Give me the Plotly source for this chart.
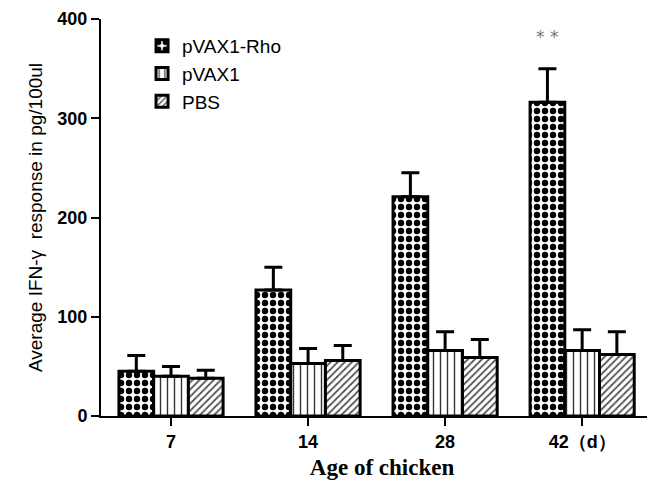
import plotly.graph_objects as go

categories = ["7", "14", "28", "42（d）"]
series_names = ["pVAX1-Rho", "pVAX1", "PBS"]
rho_values = [45, 127, 221, 316]
rho_err = [16, 23, 24, 34]
pvax_values = [40, 53, 66, 66]
pvax_err = [10, 15, 19, 21]
pbs_values = [38, 56, 59, 62]
pbs_err = [8, 15, 18, 23]

patterns = [
    dict(shape=".", fgcolor="black", bgcolor="white", size=8, solidity=0.5, fgopacity=1, fillmode="overlay"),
    dict(shape="|", fgcolor="#333", bgcolor="white", size=7, solidity=0.2, fgopacity=1, fillmode="overlay"),
    dict(shape="/", fgcolor="#555", bgcolor="white", size=5, solidity=0.35, fgopacity=1, fillmode="overlay"),
]

fig = go.Figure()
for name, vals, errs, pat in zip(series_names,
                                 [rho_values, pvax_values, pbs_values],
                                 [rho_err, pvax_err, pbs_err], patterns):
    fig.add_trace(go.Bar(
        name=name, x=categories, y=vals,
        marker=dict(color="white", line=dict(color="black", width=3), pattern=pat),
        error_y=dict(type="data", symmetric=False, array=errs, arrayminus=[0]*len(errs),
                     color="black", thickness=3, width=9),
    ))

fig.add_annotation(x="42（d）", y=350, xref="x", yref="y", text="* *", showarrow=False,
                   xshift=-35, yshift=32, font=dict(family="DejaVu Sans", size=17, color="#777"))

fig.update_layout(
    width=655, height=482,
    margin=dict(l=93, r=0, t=11, b=74),
    paper_bgcolor="white", plot_bgcolor="white",
    barmode="group", bargap=0.24, bargroupgap=0,
    font=dict(family="Liberation Sans", color="black"),
    legend=dict(x=0.073, y=0.98, xanchor="left", yanchor="top",
                font=dict(family="Liberation Sans", size=19, color="black"),
                bgcolor="rgba(0,0,0,0)", tracegroupgap=0, itemwidth=30),
    showlegend=True,
)
fig.update_xaxes(
    showline=True, linecolor="black", linewidth=2,
    ticks="outside", ticklen=8, tickwidth=2, tickcolor="black",
    tickfont=dict(family="Liberation Sans", size=18, weight="bold"),
    range=[-0.511, 3.59],
    title=dict(text="Age of chicken", font=dict(family="Liberation Serif", size=23, weight="bold"), standoff=8),
)
fig.update_yaxes(
    showline=True, linecolor="black", linewidth=2,
    ticks="outside", ticklen=8, tickwidth=2, tickcolor="black",
    tickfont=dict(family="Liberation Sans", size=18, weight="bold"),
    range=[0, 400], tickvals=[0, 100, 200, 300, 400], showgrid=False, zeroline=False,
    title=dict(text="Average IFN-γ  response in pg/100ul", font=dict(family="Liberation Sans", size=19), standoff=10),
)

fig.write_html("out.html")
